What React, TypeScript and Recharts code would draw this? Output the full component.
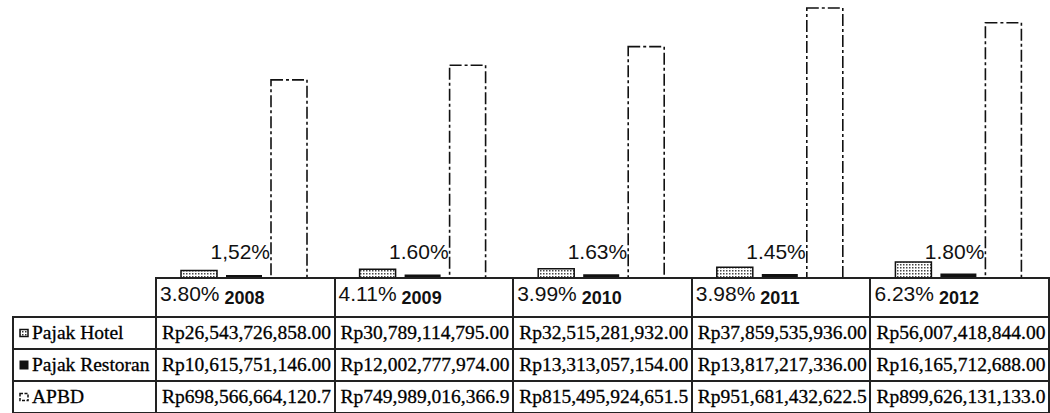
import React from 'react';
import { BarChart, Bar, XAxis, YAxis, LabelList } from 'recharts';

const categories = ['2008', '2009', '2010', '2011', '2012'];
const pajakHotel = [26543726858, 30789114795, 32515281932, 37859535936, 56007418844];
const pajakRestoran = [10615751146, 12002777974, 13313057154, 13817217336, 16165712688];
const apbd = [698566664120.7, 749989016366.9, 815495924651.5, 951681432622.5, 899626131133.0];
const hotelShare = ['3.80%', '4.11%', '3.99%', '3.98%', '6.23%'];
const restoranShare = ['1,52%', '1.60%', '1.63%', '1.45%', '1.80%'];
const seriesNames = ['Pajak Hotel', 'Pajak Restoran', 'APBD'];

const data = categories.map((c, i) => ({
  year: c,
  hotel: pajakHotel[i],
  restoran: pajakRestoran[i],
  apbd: apbd[i],
  hotelShare: hotelShare[i],
  restoranShare: restoranShare[i],
}));

const CHART_W = 1050;
const MARGIN = { top: 0, right: 2, bottom: 0, left: 155 };
const COL_W = (CHART_W - MARGIN.left - MARGIN.right) / categories.length;
const INK = '#111';
const SANS = '"Liberation Sans", Arial, sans-serif';
const SERIF = '"Liberation Serif", "Times New Roman", serif';

const fmt = (v: number, d: number) =>
  'Rp' + v.toLocaleString('en-US', { minimumFractionDigits: d, maximumFractionDigits: d });

const YearTick = (props: any) => {
  const { x, y, payload, index } = props;
  const left = x - COL_W / 2 + 5;
  return (
    <text x={left} y={y + 23} fontFamily={SANS} fill={INK}>
      <tspan fontSize={21}>{hotelShare[index]}</tspan>
      <tspan fontSize={18} fontWeight="bold" dx={5} dy={3}>{payload.value}</tspan>
    </text>
  );
};

const ShareLabel = (props: any) => {
  const { x, y, height, value } = props;
  return (
    <text x={x - 1} y={y + height - 19} textAnchor="end" fontFamily={SANS} fontSize={21} fill={INK}>
      {value}
    </text>
  );
};

const B = '2px solid #222';

const Icon = ({ kind }: { kind: number }) => (
  <svg width={10} height={10} style={{ marginRight: 3, verticalAlign: 'middle', position: 'relative', top: -2 }}>
    {kind === 0 && <rect x={1} y={1.5} width={8} height={7} fill="url(#hotelPatIcon)" stroke={INK} strokeWidth={1.5} />}
    {kind === 1 && <rect x={0.5} y={0.5} width={9} height={9} fill={INK} />}
    {kind === 2 && <rect x={1} y={1.5} width={8} height={7} fill="#fff" stroke={INK} strokeWidth={1.5} strokeDasharray="3 1.5" />}
  </svg>
);

export default function App() {
  const rows = [
    pajakHotel.map((v) => fmt(v, 2)),
    pajakRestoran.map((v) => fmt(v, 2)),
    apbd.map((v) => fmt(v, 1)),
  ];
  const cell: React.CSSProperties = {
    border: B,
    padding: '0 0 0 5px',
    whiteSpace: 'nowrap',
    overflow: 'hidden',
    verticalAlign: 'middle',
  };
  return (
    <div style={{ position: 'absolute', left: 0, top: 0, width: 1050, height: 413, background: '#fff', overflow: 'hidden' }}>
      <svg width={0} height={0} style={{ position: 'absolute' }}>
        <defs>
          <pattern id="hotelPatIcon" width={3} height={3} patternUnits="userSpaceOnUse">
            <rect width={3} height={3} fill="#fff" />
            <rect width={1.5} height={1.5} fill="#333" />
          </pattern>
        </defs>
      </svg>
      <table
        style={{
          position: 'absolute',
          top: 277,
          left: 12,
          width: 1037,
          borderCollapse: 'collapse',
          tableLayout: 'fixed',
          fontFamily: SERIF,
          fontSize: 19.5,
          color: '#000',
          WebkitTextStroke: '0.3px #000',
        }}
      >
        <colgroup>
          <col style={{ width: 143 }} />
          {categories.map((c) => (
            <col key={c} style={{ width: COL_W }} />
          ))}
        </colgroup>
        <tbody>
          <tr style={{ height: 39 }}>
            <td style={{ border: 'none', borderBottom: B }} />
            {categories.map((c) => (
              <td key={c} style={cell} />
            ))}
          </tr>
          {rows.map((r, ri) => (
            <tr key={ri} style={{ height: 32 }}>
              <td style={{ ...cell, paddingLeft: 5 }}>
                <Icon kind={ri} />
                {seriesNames[ri]}
              </td>
              {r.map((t, ci) => (
                <td key={ci} style={cell}>
                  {t}
                </td>
              ))}
            </tr>
          ))}
        </tbody>
      </table>
      <div style={{ position: 'absolute', left: 0, top: 0 }}>
        <BarChart width={CHART_W} height={316} data={data} margin={MARGIN} barSize={36} barGap={9}>
          <defs>
            <pattern id="hotelPat" width={3} height={3} patternUnits="userSpaceOnUse">
              <rect width={3} height={3} fill="#fff" />
              <rect width={1.5} height={1.5} fill="#444" />
            </pattern>
          </defs>
          <XAxis
            dataKey="year"
            height={38}
            tickLine={false}
            tickSize={0}
            tickMargin={0}
            axisLine={{ stroke: '#222', strokeWidth: 2 }}
            tick={<YearTick />}
            interval={0}
          />
          <YAxis hide domain={[0, 980e9]} />
          <Bar dataKey="hotel" name={seriesNames[0]} fill="url(#hotelPat)" stroke={INK} strokeWidth={1.5} isAnimationActive={false} />
          <Bar dataKey="restoran" name={seriesNames[1]} fill={INK} isAnimationActive={false} />
          <Bar
            dataKey="apbd"
            name={seriesNames[2]}
            fill="#fff"
            fillOpacity={0}
            stroke={INK}
            strokeWidth={1.6}
            strokeDasharray="12 3 3 3"
            isAnimationActive={false}
          >
            <LabelList dataKey="restoranShare" content={<ShareLabel />} />
          </Bar>
        </BarChart>
      </div>
    </div>
  );
}
